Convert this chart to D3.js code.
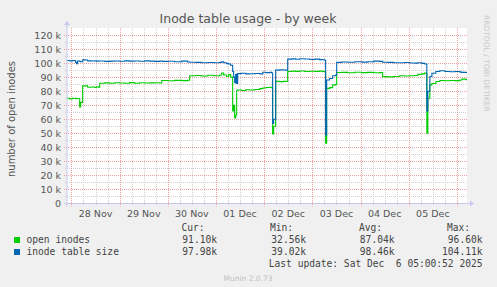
<!DOCTYPE html>
<html><head><meta charset="utf-8">
<script src="https://cdn.jsdelivr.net/npm/d3@7"></script>
<style>
html,body{margin:0;padding:0;background:#F0F0F0;}
svg{display:block;}
</style></head>
<body>
<svg id="c" width="497" height="287"></svg>
<script>
// ---------- data (hours since 2025-11-28 00:00 UTC) ----------
const hours = [-2.3,-0.8,0.6,2.1,2.6,3.1,4.1,4.6,5.6,7.1,8.1,10.1,11.6,12.6,13.6,14.1,16.6,19.1,21.6,24.1,26.5,29.0,31.5,34.0,36.5,39.0,41.5,44.0,45.0,48.0,51.4,54.9,57.9,58.9,61.9,64.9,67.9,70.9,73.9,74.8,75.8,77.3,78.3,79.3,80.3,80.8,81.3,81.8,82.3,82.8,84.8,86.8,88.8,91.3,93.8,95.3,96.8,98.8,99.8,100.2,100.7,101.7,103.7,105.7,106.7,107.7,109.7,111.7,113.7,116.2,118.7,121.2,123.6,125.1,126.1,126.6,127.1,128.6,130.1,131.6,132.1,134.6,137.6,141.1,144.6,147.6,150.6,153.5,155.0,157.5,160.5,163.5,166.0,168.5,171.0,172.5,174.5,176.0,177.0,177.5,178.5,179.5,181.5,183.5,186.0,188.5,191.0,193.5,194.5,196.5,197.0];
const openInodes = [75.0,74.5,75.0,74.6,74.8,74.8,68.8,72.0,83.8,83.8,82.8,83.0,82.6,83.2,82.9,85.7,85.9,85.6,86.0,85.8,85.6,86.1,85.7,86.0,85.8,85.9,86.0,85.8,87.6,87.4,87.7,87.5,87.8,91.0,91.2,90.8,91.3,91.0,91.5,93.0,91.5,90.5,91.8,90.0,66.0,70.0,61.0,63.0,80.5,80.8,80.5,81.0,80.8,81.2,81.8,82.3,82.6,82.8,82.5,49.5,55.0,87.0,86.8,87.0,86.9,94.0,94.3,94.1,94.4,94.0,94.2,94.1,94.3,94.0,93.8,43.0,82.0,82.5,84.5,84.8,93.3,93.4,93.1,93.5,93.2,93.4,93.1,93.2,90.4,90.2,90.5,91.0,90.8,91.0,91.2,92.0,92.3,93.0,50.0,75.0,84.5,85.5,86.9,87.6,87.4,87.6,87.5,88.0,88.6,88.2,88.2];
const tableSize = [101.8,101.6,101.9,100.5,99.5,101.5,101.2,101.0,102.3,102.2,101.6,101.5,101.6,101.4,101.5,101.5,101.2,101.4,101.5,101.3,101.6,101.4,101.5,101.3,101.6,101.4,101.2,101.5,101.2,101.3,101.0,101.4,100.8,100.6,100.5,100.3,100.4,100.2,100.5,101.0,100.2,99.6,99.4,98.5,94.0,90.0,86.0,92.0,85.5,92.5,92.8,92.3,92.4,92.6,92.3,93.5,93.2,93.4,93.0,57.0,60.0,95.0,95.2,95.1,95.0,102.8,103.0,102.7,103.1,102.9,102.6,102.8,102.5,102.4,102.0,48.8,88.0,89.0,91.0,91.5,100.5,100.8,100.6,101.0,100.7,101.0,101.4,101.2,100.6,100.5,100.3,100.2,100.4,100.1,100.0,100.2,99.8,99.4,66.0,80.0,90.5,92.8,94.0,94.5,94.0,93.8,94.0,93.6,93.4,93.3,93.3];
const seriesNames = ["open inodes","inode table size"];
const seriesColors = ["#00CC00","#0066B3"];
const statHeaders = ["Cur:","Min:","Avg:","Max:"];
const statValues = [["91.10k","32.56k","87.04k","96.60k"],["97.98k","39.02k","98.46k","104.11k"]];
const yTicks = [0,10,20,30,40,50,60,70,80,90,100,110,120];
const title = "Inode table usage - by week";
const yLabel = "number of open inodes";
const lastUpdate = "Last update: Sat Dec  6 05:00:52 2025";

// ---------- layout ----------
const svg = d3.select("#c");
const L = 67, R = 467, T = 28, B = 203.5;
const ref = Date.UTC(2025,10,28);
const H = 3600*1000;
const endT = ref + 197*H;
const x = d3.scaleUtc().domain([endT - 199.2*H, endT]).range([L, R]);
const y = d3.scaleLinear().domain([0,125]).range([B, T]);

svg.append("rect").attr("x",0).attr("y",0).attr("width",497).attr("height",287).attr("fill","#F0F0F0");
svg.append("rect").attr("x",L).attr("y",T).attr("width",R-L).attr("height",B-T).attr("fill","#FFFFFF");

const g = svg.append("g");
// minor vertical grid every 6h
const minorT = d3.utcHour.every(6).range(new Date(x.domain()[0]), new Date(x.domain()[1]));
g.selectAll(".vmin").data(minorT.filter(d=>d.getUTCHours()!==0)).enter().append("line")
  .attr("x1",d=>Math.round(x(d))+0.5).attr("x2",d=>Math.round(x(d))+0.5)
  .attr("y1",T).attr("y2",B+2).attr("stroke","#D0D0D0").attr("stroke-dasharray","1,1");
// minor horizontal grid every 5k
const minorY = d3.range(5,125,10);
g.selectAll(".hmin").data(minorY).enter().append("line")
  .attr("x1",L-2).attr("x2",R).attr("y1",d=>Math.round(y(d))+0.5).attr("y2",d=>Math.round(y(d))+0.5)
  .attr("stroke","#D0D0D0").attr("stroke-dasharray","1,1");
// major vertical grid at midnight
const majorT = d3.utcDay.every(1).range(new Date(x.domain()[0]), new Date(x.domain()[1]));
g.selectAll(".vmaj").data(majorT).enter().append("line")
  .attr("x1",d=>Math.round(x(d))+0.5).attr("x2",d=>Math.round(x(d))+0.5)
  .attr("y1",T).attr("y2",B+3).attr("stroke","#F0A0A0").attr("stroke-dasharray","1,1");
// major horizontal grid
g.selectAll(".hmaj").data(yTicks.filter(d=>d>0)).enter().append("line")
  .attr("x1",L-3).attr("x2",R).attr("y1",d=>Math.round(y(d))+0.5).attr("y2",d=>Math.round(y(d))+0.5)
  .attr("stroke","#F0A0A0").attr("stroke-dasharray","1,1");

// y tick labels
svg.append("g").selectAll("text").data(yTicks).enter().append("text")
  .attr("x",61).attr("y",d=>y(d)+3.5).attr("text-anchor","end")
  .attr("font-family","DejaVu Sans").attr("font-size","9.5px").attr("fill","#555")
  .text(d=>d===0?"0":d+" k");

// x tick labels at noon
const fmt = d3.utcFormat("%d %b");
const noons = majorT.map(d=>new Date(+d+12*H)).filter(d=>x(d)<R);
svg.append("g").selectAll("text").data(noons).enter().append("text")
  .attr("x",d=>x(d)).attr("y",216.5).attr("text-anchor","middle")
  .attr("font-family","DejaVu Sans").attr("font-size","9.5px").attr("fill","#555")
  .text(d=>fmt(d));

// series
const line = d3.line().x(d=>x(d[0])).y(d=>y(d[1])).curve(d3.curveStepAfter);
svg.append("clipPath").attr("id","clip").append("rect").attr("x",L).attr("y",T).attr("width",R-L).attr("height",B-T);
[openInodes, tableSize].forEach((vals,i)=>{
  const pts = hours.map((h,j)=>[new Date(ref+h*H), vals[j]]);
  svg.append("path").attr("d",line(pts)).attr("fill","none")
    .attr("stroke",seriesColors[i]).attr("stroke-width",1.1).attr("clip-path","url(#clip)");
});

// axes
const ax = svg.append("g").attr("stroke","#C8C8F0").attr("fill","#C8C8F0");
ax.append("line").attr("x1",L-3).attr("x2",R+3).attr("y1",B).attr("y2",B).attr("stroke-width",1);
ax.append("line").attr("x1",L).attr("x2",L).attr("y1",B+3).attr("y2",T-3).attr("stroke-width",1);
ax.append("path").attr("d",`M${R+3},${B-3}L${R+7},${B}L${R+3},${B+3}Z`).attr("stroke","none");
ax.append("path").attr("d",`M${L-3},${T-3}L${L},${T-7}L${L+3},${T-3}Z`).attr("stroke","none");

// title
svg.append("text").attr("x",248).attr("y",23).attr("text-anchor","middle")
  .attr("font-family","DejaVu Sans").attr("font-size","12.5px").attr("fill","#555").text(title);
// y label
svg.append("text").attr("transform","translate(15,119) rotate(-90)").attr("text-anchor","middle")
  .attr("font-family","DejaVu Sans").attr("font-size","10px").attr("fill","#555").text(yLabel);
// watermark
svg.append("text").attr("transform","translate(484,15) rotate(90)").attr("text-anchor","start")
  .attr("font-family","DejaVu Sans").attr("font-size","7.5px").attr("fill","#C8C8C8").text("RRDTOOL / TOBI OETIKER");

// legend
const mono = "DejaVu Sans Mono";
const hdrX = [181.5,270,359,447];
const valX = [217,306,394.5,482.5];
const lg = svg.append("g").attr("font-family",mono).attr("font-size","9.6px").attr("fill","#444");
statHeaders.forEach((h,i)=>lg.append("text").attr("x",hdrX[i]).attr("y",231).text(h));
seriesNames.forEach((n,r)=>{
  const yy = 243 + r*12;
  lg.append("rect").attr("x",14).attr("y",yy-6).attr("width",6).attr("height",6).attr("fill",seriesColors[r]);
  lg.append("text").attr("x",26.5).attr("y",yy).text(n);
  statValues[r].forEach((v,i)=>lg.append("text").attr("x",valX[i]).attr("y",yy).attr("text-anchor","end").text(v));
});
lg.append("text").attr("x",482.5).attr("y",266.5).attr("text-anchor","end").attr("xml:space","preserve").style("white-space","pre").text(lastUpdate);
svg.append("text").attr("x",248).attr("y",281).attr("text-anchor","middle")
  .attr("font-family","DejaVu Sans").attr("font-size","7.5px").attr("fill","#C0C0C0").text("Munin 2.0.73");
</script>
</body></html>
